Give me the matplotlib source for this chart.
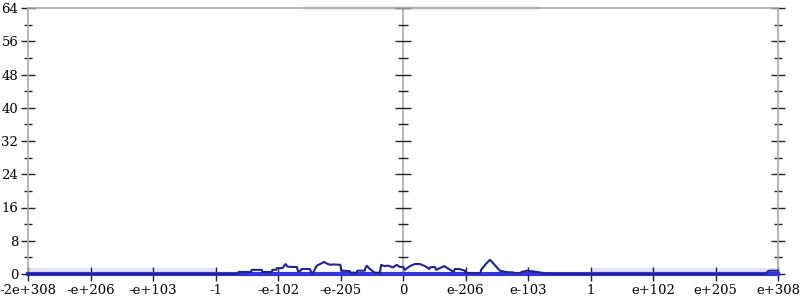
import matplotlib
matplotlib.use("Agg")
import matplotlib.pyplot as plt
import numpy as np

# x positions are in "tick units": each labelled tick is one unit apart, 0 at centre
tick_pos = [-6, -5, -4, -3, -2, -1, 0, 1, 2, 3, 4, 5, 6]
tick_labels = ["-2e+308", "-e+206", "-e+103", "-1", "-e-102", "-e-205", "0",
               "e-206", "e-103", "1", "e+102", "e+205", "e+308"]

# dark curve (x in tick units, y counts)
curve_x = [-6.0, -2.64, -2.63, -2.43, -2.42, -2.26, -2.25, -2.10, -2.09, -2.03,
           -2.02, -1.93, -1.88, -1.85, -1.80, -1.70, -1.68, -1.65, -1.62, -1.50,
           -1.49, -1.48, -1.45, -1.38, -1.30, -1.26, -1.22, -1.16, -1.12, -1.00,
           -0.99, -0.85, -0.84, -0.74, -0.73, -0.61, -0.60, -0.58, -0.53, -0.45,
           -0.37, -0.35, -0.30, -0.24, -0.16, -0.10, -0.05, 0.0, 0.03, 0.11,
           0.19, 0.27, 0.35, 0.42, 0.43, 0.51, 0.53, 0.66, 0.69, 0.81,
           0.83, 0.90, 0.99, 1.00, 1.07, 1.24, 1.25, 1.33, 1.39, 1.42,
           1.44, 1.55, 1.64, 1.70, 1.75, 1.80, 1.87, 1.90, 1.99, 2.14,
           2.22, 2.24, 2.30, 2.40, 2.50, 2.55, 2.62, 2.66, 2.68, 3.0,
           5.8, 5.85, 6.0]
curve_y = [0.0, 0.0, 0.5, 0.5, 1.0, 1.0, 0.5, 0.5, 1.0, 1.0,
           1.4, 1.4, 2.4, 1.8, 1.7, 1.7, 0.7, 0.7, 1.2, 1.2,
           1.2, 0.8, 0.0, 2.0, 2.6, 2.9, 2.5, 2.2, 2.3, 2.2,
           0.8, 0.7, 0.3, 0.3, 0.8, 0.8, 1.5, 2.0, 1.2, 0.3,
           0.3, 2.2, 1.9, 2.0, 1.6, 2.2, 1.7, 1.7, 1.0, 1.9,
           2.4, 2.4, 1.9, 1.2, 1.6, 1.7, 1.0, 1.9, 1.6, 0.5,
           1.2, 1.2, 0.8, 0.2, 0.2, 0.2, 1.0, 2.5, 3.4, 3.0,
           2.6, 0.8, 0.5, 0.4, 0.4, 0.2, 0.2, 0.5, 0.8, 0.5,
           0.3, 0.1, 0.1, 0.0, 0.0, 0.0, 0.0, 0.0, 0.0, 0.0,
           0.0, 0.8, 0.8]

# faint background bands (x start, x end, y)
faint_low_x = [[-6.0, -3.0], [3.0, 6.0]]
faint_low_y = 0.8
faint_top_x = [-1.6, 2.2]
faint_top_y = 64.0

y_major = [0, 8, 16, 24, 32, 40, 48, 56, 64]
y_minor = [4, 12, 20, 28, 36, 44, 52, 60]

fig = plt.figure(figsize=(8, 3), dpi=100)
ax = fig.add_axes([28 / 800, 26 / 300, 750 / 800, 266 / 300])
ax.set_xlim(-6, 6)
ax.set_ylim(0, 64)

for seg in faint_low_x:
    ax.plot(seg, [faint_low_y, faint_low_y], color="#d2d2f6", lw=5, alpha=0.6,
            solid_capstyle="butt", zorder=1)
ax.plot(faint_top_x, [faint_top_y, faint_top_y], color="#dcdcf6", lw=3, alpha=0.5,
        solid_capstyle="butt", zorder=1, clip_on=False)

ax.plot([-6, 6], [0, 0], color="#3434e0", lw=3, zorder=3, clip_on=False)
ax.plot(curve_x, curve_y, color="#23238c", lw=1.5, zorder=4, clip_on=False)

# centre line with ticks
ax.axvline(0, color="#a8a8a8", lw=1.2, zorder=2)
ax.plot([0] * len(y_major), y_major, linestyle="none", marker="_", ms=12,
        mew=1, color="#222222", zorder=2, clip_on=False)
ax.plot([0] * len(y_minor), y_minor, linestyle="none", marker="_", ms=7,
        mew=1, color="#222222", zorder=2, clip_on=False)

for s in ax.spines.values():
    s.set_color("#a8a8a8")
    s.set_linewidth(1.2)

ax.set_xticks(tick_pos)
ax.set_xticklabels(tick_labels)
ax.set_yticks(y_major)
ax.set_yticks(y_minor, minor=True)
ax.tick_params(axis="both", which="major", direction="inout", length=10, width=1,
               color="#222222", labelsize=9.5, pad=2)
ax.tick_params(axis="y", which="major", right=True, labelright=False)
ax.tick_params(axis="y", which="minor", direction="inout", length=6, width=1,
               color="#222222", right=True)
for lab in ax.get_xticklabels() + ax.get_yticklabels():
    lab.set_family("DejaVu Serif")

fig.savefig("out.png", dpi=100)
